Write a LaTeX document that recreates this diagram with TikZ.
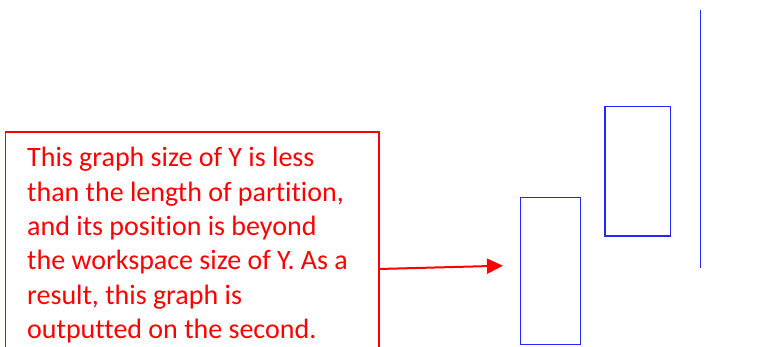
\documentclass[tikz,border=0pt]{standalone}
\usepackage{fontspec}
\setmainfont{Carlito}[Ligatures=NoCommon]
\usetikzlibrary{arrows.meta}
\begin{document}
\begin{tikzpicture}[x=1pt,y=1pt,
  redbox/.style={draw=red,line width=1.6pt},
  note/.style={text=red,font=\fontsize{28}{34}\selectfont,anchor=base west,inner sep=0pt},
  bluebox/.style={draw=blue!85!white,line width=1.4pt},
  arr/.style={draw=red,line width=2pt,-{Triangle[length=16pt,width=15pt]}}]
\useasboundingbox (0,0) rectangle (784,347);
\clip (0,0) rectangle (784,347);
% red text box (bottom cut off by the frame)
\draw[redbox] (5.5,-10) rectangle (379,215);
\node[note] (t1) at (27,180)   {This graph size of Y is less};
\node[note] (t2) at (27,145.7) {than the length of partition,};
\node[note] (t3) at (27,111.4) {and its position is beyond};
\node[note] (t4) at (27,77)    {the workspace size of Y. As a};
\node[note] (t5) at (27,42.7)  {result, this graph is};
\node[note] (t6) at (27,8.4)   {outputted on the second.};
% blue graphs
\node[bluebox,minimum width=60.5pt,minimum height=147.5pt,inner sep=0pt,anchor=south west] (r1) at (519.5,1.5) {};
\node[bluebox,minimum width=65.4pt,minimum height=129.7pt,inner sep=0pt,anchor=south west] (r2) at (604.3,110.3) {};
\coordinate (l1) at (700.7,337.3);
\coordinate (l2) at (700.7,79);
\draw[bluebox] (l1) -- (l2);
% arrow
\coordinate (a1) at (379,78);
\coordinate (a2) at (503,81.3);
\draw[arr] (a1) -- (a2);
\end{tikzpicture}
\end{document}
